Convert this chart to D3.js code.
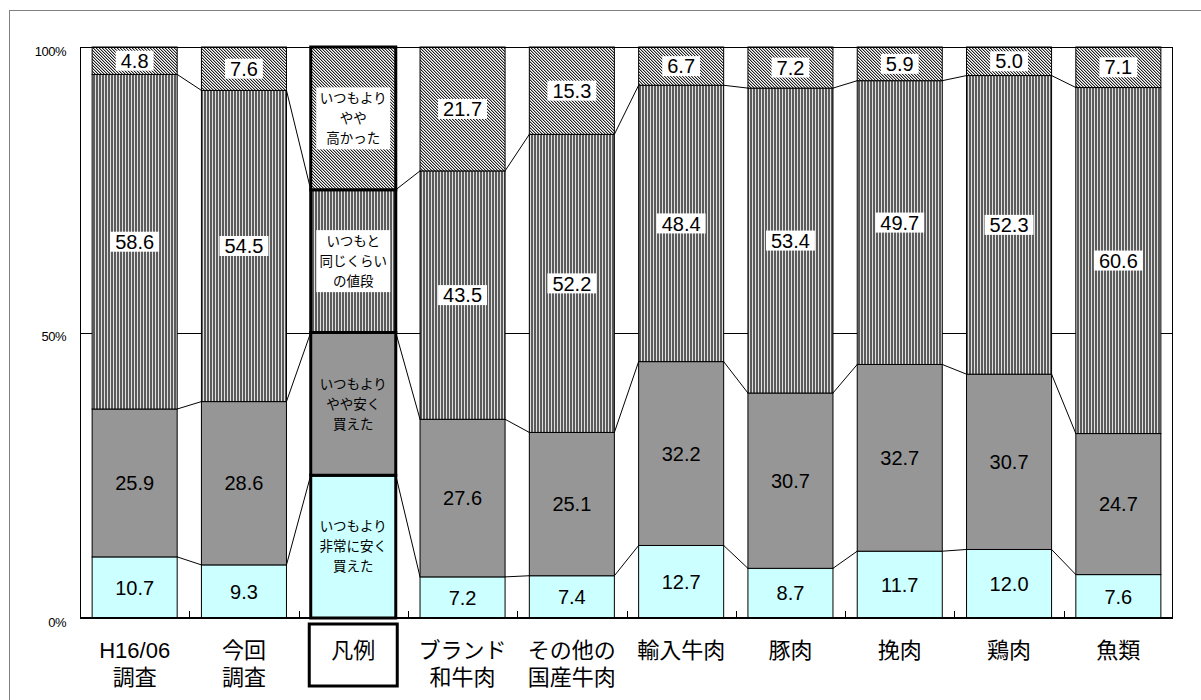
<!DOCTYPE html>
<html>
<head>
<meta charset="utf-8">
<script src="https://cdn.jsdelivr.net/npm/d3@7"></script>
<style>
  html, body { margin: 0; padding: 0; background: #fff; }
  svg { display: block; }
  text { font-family: "Liberation Sans", Arial, "Noto Sans CJK JP", sans-serif; fill: #000; }
</style>
</head>
<body>
<svg id="chart" width="1201" height="700"></svg>
<script>
// Price perception by product category (shares in %, bottom to top)
const categories = [
  ["H16/06", "調査"], ["今回", "調査"], ["凡例"], ["ブランド", "和牛肉"], ["その他の", "国産牛肉"],
  ["輸入牛肉"], ["豚肉"], ["挽肉"], ["鶏肉"], ["魚類"]
];
const muchCheaper   = [10.7, 9.3, 25, 7.2, 7.4, 12.7, 8.7, 11.7, 12.0, 7.6];
const littleCheaper = [25.9, 28.6, 25, 27.6, 25.1, 32.2, 30.7, 32.7, 30.7, 24.7];
const samePrice     = [58.6, 54.5, 25, 43.5, 52.2, 48.4, 53.4, 49.7, 52.3, 60.6];
const higher        = [4.8, 7.6, 25, 21.7, 15.3, 6.7, 7.2, 5.9, 5.0, 7.1];
const legendIndex = 2;
const seriesNames = [
  ["いつもより", "非常に安く", "買えた"],
  ["いつもより", "やや安く", "買えた"],
  ["いつもと", "同じくらい", "の値段"],
  ["いつもより", "やや", "高かった"]
];
const yTicks = [0, 50, 100];
const yTickLabels = ["0%", "50%", "100%"];

const seriesKeys = ["muchCheaper", "littleCheaper", "samePrice", "higher"];
const table = categories.map((c, i) => ({
  idx: i,
  muchCheaper: muchCheaper[i],
  littleCheaper: littleCheaper[i],
  samePrice: samePrice[i],
  higher: higher[i]
}));

const svg = d3.select("#chart");
const plot = { left: 80, right: 1173, top: 47, bottom: 618 };

const x = d3.scaleBand()
  .domain(d3.range(categories.length))
  .range([plot.left, plot.right])
  .paddingInner(0.222)
  .paddingOuter(0.111);
const y = d3.scaleLinear().domain([0, 100]).range([plot.bottom, plot.top]);
const bw = x.bandwidth();

// fill patterns
const defs = svg.append("defs");
const stripes = defs.append("pattern")
  .attr("id", "stripes").attr("patternUnits", "userSpaceOnUse")
  .attr("width", 3).attr("height", 6);
stripes.append("rect").attr("width", 3).attr("height", 6).attr("fill", "#e0e0e0");
stripes.append("rect").attr("width", 2).attr("height", 6).attr("fill", "#5c5c5c");

const hatch = defs.append("pattern")
  .attr("id", "hatch").attr("patternUnits", "userSpaceOnUse")
  .attr("width", 3).attr("height", 3);
hatch.append("rect").attr("width", 3).attr("height", 3).attr("fill", "#fff");
for (let px = 0; px < 3; px++) {
  for (let py = 0; py < 3; py++) {
    const m = (((px - py) % 3) + 3) % 3;
    if (m === 0) {
      hatch.append("rect").attr("x", px).attr("y", py).attr("width", 1).attr("height", 1)
        .attr("fill", "#222").attr("shape-rendering", "crispEdges");
    } else if (m === 1) {
      hatch.append("rect").attr("x", px).attr("y", py).attr("width", 1).attr("height", 1)
        .attr("fill", "#a8a8a8").attr("shape-rendering", "crispEdges");
    }
  }
}
const fills = ["#ccffff", "#969696", "url(#stripes)", "url(#hatch)"];

// outer frame
svg.append("rect")
  .attr("x", 9.5).attr("y", 10.5).attr("width", 1200).attr("height", 700)
  .attr("fill", "none").attr("stroke", "#808080").attr("stroke-width", 1);

// 50% grid line
svg.append("g").selectAll("line")
  .data(yTicks.filter(t => t > 0 && t < 100))
  .join("line")
  .attr("x1", plot.left).attr("x2", plot.right)
  .attr("y1", d => Math.round(y(d)) + 0.5).attr("y2", d => Math.round(y(d)) + 0.5)
  .attr("stroke", "#000").attr("stroke-width", 1);

const stacked = d3.stack().keys(seriesKeys)(table);

// series lines joining segment boundaries of neighbouring bars
const joinG = svg.append("g");
for (let k = 0; k < 3; k++) {
  const layer = stacked[k];
  for (let i = 0; i < categories.length - 1; i++) {
    joinG.append("line")
      .attr("x1", x(i) + bw).attr("x2", x(i + 1))
      .attr("y1", y(layer[i][1])).attr("y2", y(layer[i + 1][1]))
      .attr("stroke", "#000").attr("stroke-width", 1);
  }
}

// bars
const barG = svg.append("g");
stacked.forEach((layer, k) => {
  barG.append("g").selectAll("rect")
    .data(layer)
    .join("rect")
    .attr("x", (d, i) => x(i))
    .attr("width", bw)
    .attr("y", d => y(d[1]))
    .attr("height", d => y(d[0]) - y(d[1]))
    .attr("fill", fills[k])
    .attr("stroke", "#000")
    .attr("stroke-width", (d, i) => i === legendIndex ? 3 : 1);
});

// value labels
const labelG = svg.append("g");
stacked.forEach((layer, k) => {
  layer.forEach((d, i) => {
    if (i === legendIndex) return;
    const cx = x(i) + bw / 2;
    const cy = (y(d[0]) + y(d[1])) / 2;
    const g = labelG.append("g");
    const t = g.append("text")
      .attr("x", cx).attr("y", cy).attr("dy", "0.36em")
      .attr("text-anchor", "middle")
      .attr("font-size", 20)
      .text(d.data[seriesKeys[k]].toFixed(1));
    if (k >= 2) {
      const w = t.node().getComputedTextLength();
      g.insert("rect", "text")
        .attr("x", cx - w / 2 - 5).attr("y", cy - 10)
        .attr("width", w + 10).attr("height", 20)
        .attr("fill", "#fff");
    }
  });
});

// legend texts inside the legend bar
stacked.forEach((layer, k) => {
  const d = layer[legendIndex];
  const cx = x(legendIndex) + bw / 2;
  const cy = (y(d[0]) + y(d[1])) / 2;
  const lines = seriesNames[k];
  const lh = 20;
  const g = svg.append("g");
  if (k >= 2) {
    g.append("rect")
      .attr("x", cx - 37).attr("y", cy - lines.length * lh / 2 - 1)
      .attr("width", 74).attr("height", lines.length * lh + 2)
      .attr("fill", "#fff");
  }
  g.selectAll("text").data(lines).join("text")
    .attr("x", cx)
    .attr("y", (l, j) => cy + (j - (lines.length - 1) / 2) * lh)
    .attr("dy", "0.36em")
    .attr("text-anchor", "middle")
    .attr("font-size", 13.5)
    .text(l => l);
});

// plot frame and axes
svg.append("rect")
  .attr("x", plot.left + 0.5).attr("y", plot.top + 0.5)
  .attr("width", plot.right - plot.left - 1).attr("height", plot.bottom - plot.top)
  .attr("fill", "none").attr("stroke", "#000").attr("stroke-width", 1);
svg.append("line")
  .attr("x1", plot.left).attr("x2", plot.right)
  .attr("y1", plot.bottom).attr("y2", plot.bottom)
  .attr("stroke", "#000").attr("stroke-width", 2);

// category separators on the x axis
svg.append("g").selectAll("line")
  .data(d3.range(1, categories.length))
  .join("line")
  .attr("x1", i => Math.round(x(i) - x.step() * x.paddingInner() / 2) + 0.5)
  .attr("x2", i => Math.round(x(i) - x.step() * x.paddingInner() / 2) + 0.5)
  .attr("y1", plot.bottom).attr("y2", plot.bottom - 7)
  .attr("stroke", "#000").attr("stroke-width", 1);

// y tick labels
svg.append("g").selectAll("text")
  .data(yTicks)
  .join("text")
  .attr("x", 66).attr("y", d => y(d) + 4)
  .attr("dy", "0.36em")
  .attr("text-anchor", "end")
  .attr("font-size", 13)
  .attr("letter-spacing", -0.5)
  .text((d, i) => yTickLabels[i]);

// category labels
const catG = svg.append("g");
categories.forEach((lines, i) => {
  const cx = x(i) + bw / 2;
  catG.append("g").selectAll("text").data(lines).join("text")
    .attr("x", cx)
    .attr("y", (l, j) => 650 + j * 27)
    .attr("dy", "0.36em")
    .attr("text-anchor", "middle")
    .attr("font-size", 22)
    .text(l => l);
  if (i === legendIndex) {
    catG.append("rect")
      .attr("x", cx - 44).attr("y", 624)
      .attr("width", 88).attr("height", 62)
      .attr("fill", "none").attr("stroke", "#000").attr("stroke-width", 3);
  }
});
</script>
</body>
</html>
